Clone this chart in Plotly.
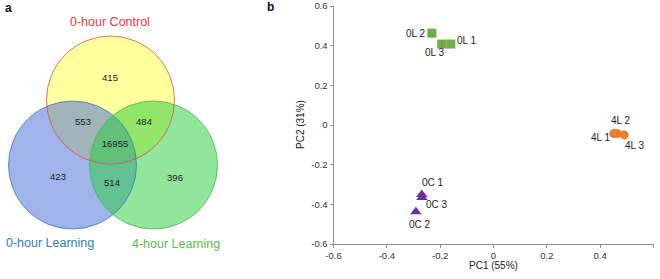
import plotly.graph_objects as go

# ---------------- Data ----------------
venn_sets = ["0-hour Control", "0-hour Learning", "4-hour Learning"]
venn_region_names = ["C only", "C&L0", "C&L4", "All", "L0 only", "L0&L4", "L4 only"]
venn_region_counts = [415, 553, 484, 16955, 423, 514, 396]

sample_labels = ["0L 1", "0L 2", "0L 3", "4L 1", "4L 2", "4L 3", "0C 1", "0C 2", "0C 3"]
sample_groups = ["0L", "0L", "0L", "4L", "4L", "4L", "0C", "0C", "0C"]
pc1_values = [-0.160, -0.231, -0.194, 0.451, 0.464, 0.490, -0.269, -0.291, -0.268]
pc2_values = [0.408, 0.463, 0.408, -0.043, -0.043, -0.050, -0.350, -0.438, -0.365]

axis_tick_values = [-0.6, -0.4, -0.2, 0, 0.2, 0.4, 0.6]
axis_tick_labels = ["-0.6", "-0.4", "-0.2", "0", "0.2", "0.4", "0.6"]
pc1_title = "PC1 (55%)"
pc2_title = "PC2 (31%)"

# ---------------- Styles ----------------
W, H = 660, 279
FONT = "Liberation Sans, Arial, sans-serif"
group_style = {
    "0L": dict(symbol="square", color="#70ad47", size=9),
    "4L": dict(symbol="circle", color="#ed7d31", size=9),
    "0C": dict(symbol="triangle-up", color="#7030a0", size=10),
}
# label placement relative to its marker: (xanchor, xshift px, yshift px; +y = down)
label_offset = {
    "0L 1": ("left", 4, -4), "0L 2": ("right", -4, 0), "0L 3": ("center", -7, 8.5),
    "4L 1": ("right", -1, 4), "4L 2": ("center", 4, -13.5), "4L 3": ("left", -1.5, 10.5),
    "0C 1": ("left", -2, -12), "0C 2": ("center", 4.5, 12.5), "0C 3": ("left", 2, 7),
}

fig = go.Figure()

# ---------------- PCA scatter ----------------
for g in ["0L", "4L", "0C"]:
    idx = [i for i, s in enumerate(sample_groups) if s == g]
    st = group_style[g]
    fig.add_trace(go.Scatter(
        x=[pc1_values[i] for i in idx],
        y=[pc2_values[i] for i in idx],
        text=[sample_labels[i] for i in idx],
        mode="markers",
        marker=dict(symbol=st["symbol"], color=st["color"], size=st["size"], line=dict(width=0)),
        xaxis="x", yaxis="y", showlegend=False, cliponaxis=False, hoverinfo="text",
    ))

annotations = []
for lab, xv, yv in zip(sample_labels, pc1_values, pc2_values):
    xa, dx, dy = label_offset[lab]
    annotations.append(dict(x=xv, y=yv, xref="x", yref="y", text=lab, showarrow=False,
                            xanchor=xa, yanchor="middle", xshift=dx, yshift=-dy,
                            font=dict(family=FONT, size=10, color="#222222")))

# ---------------- Venn (pixel-space hidden axes) ----------------
circ = {
    "0-hour Control": dict(cx=110.5, cy=100, r=64, fill="rgba(255,255,60,0.5)", line="#e84a4a"),
    "0-hour Learning": dict(cx=72.5, cy=165, r=64, fill="rgba(65,105,215,0.5)", line="#3a7ec4"),
    "4-hour Learning": dict(cx=153.5, cy=165, r=64, fill="rgba(35,205,55,0.5)", line="#4cb84c"),
}
draw_order = ["0-hour Control", "0-hour Learning", "4-hour Learning"]
shapes = []
for name in draw_order:
    c = circ[name]
    shapes.append(dict(type="circle", xref="x2", yref="y2",
                       x0=c["cx"] - c["r"], x1=c["cx"] + c["r"],
                       y0=c["cy"] - c["r"], y1=c["cy"] + c["r"],
                       fillcolor=c["fill"], line=dict(width=0), layer="below"))
for name in draw_order:
    c = circ[name]
    shapes.append(dict(type="circle", xref="x2", yref="y2",
                       x0=c["cx"] - c["r"], x1=c["cx"] + c["r"],
                       y0=c["cy"] - c["r"], y1=c["cy"] + c["r"],
                       fillcolor="rgba(0,0,0,0)", line=dict(width=1, color=c["line"]),
                       opacity=0.8, layer="below"))

region_xy = {
    "C only": (110, 79), "C&L0": (83, 123), "C&L4": (144, 123), "All": (115, 145),
    "L0 only": (58, 178), "L0&L4": (112, 184), "L4 only": (175, 179),
}
fig.add_trace(go.Scatter(
    x=[region_xy[n][0] for n in venn_region_names],
    y=[region_xy[n][1] for n in venn_region_names],
    text=[str(v) for v in venn_region_counts],
    mode="text", textfont=dict(family=FONT, size=9.5, color="#1a1a1a"),
    xaxis="x2", yaxis="y2", showlegend=False, hoverinfo="skip", cliponaxis=False,
))

set_label_style = {
    "0-hour Control": dict(x=110, y=22, color="#e83a3a"),
    "0-hour Learning": dict(x=50, y=243, color="#2f7bbf"),
    "4-hour Learning": dict(x=176, y=244, color="#5cbc4e"),
}
for name in venn_sets:
    s = set_label_style[name]
    annotations.append(dict(x=s["x"], y=s["y"], xref="x2", yref="y2", text=name,
                            xanchor="center", yanchor="middle",
                            showarrow=False, font=dict(family=FONT, size=12.5, color=s["color"])))

annotations += [
    dict(x=8 / W, y=1 - 8 / H, xref="paper", yref="paper", text="<b>a</b>", showarrow=False,
         xanchor="center", yanchor="middle", font=dict(family=FONT, size=12, color="#111")),
    dict(x=270 / W, y=1 - 7 / H, xref="paper", yref="paper", text="<b>b</b>", showarrow=False,
         xanchor="center", yanchor="middle", font=dict(family=FONT, size=12, color="#111")),
    dict(x=493 / W, y=1 - 265 / H, xref="paper", yref="paper", text=pc1_title, showarrow=False,
         xanchor="center", yanchor="middle", font=dict(family=FONT, size=10, color="#222")),
    dict(x=300 / W, y=1 - 125 / H, xref="paper", yref="paper", text=pc2_title, showarrow=False,
         xanchor="center", yanchor="middle", textangle=-90,
         font=dict(family=FONT, size=10, color="#222")),
]

axis_common = dict(
    range=[-0.6, 0.6], tickvals=axis_tick_values, ticktext=axis_tick_labels,
    showgrid=False, zeroline=False, showline=True, linecolor="#8c8c8c", linewidth=1,
    ticks="outside", ticklen=3, tickcolor="#8c8c8c", automargin=False,
    tickfont=dict(family=FONT, size=9.5, color="#333"), fixedrange=True,
)

fig.update_layout(
    width=W, height=H, margin=dict(l=0, r=0, t=0, b=0, pad=0, autoexpand=False),
    paper_bgcolor="white", plot_bgcolor="rgba(0,0,0,0)",
    xaxis=dict(domain=[333.5 / W, 653.5 / W], anchor="y", **axis_common),
    yaxis=dict(domain=[1 - 244 / H, 1 - 6 / H], anchor="x", **axis_common),
    xaxis2=dict(domain=[0, 330 / W], range=[0, 330], visible=False, anchor="y2", fixedrange=True),
    yaxis2=dict(domain=[0, 1], range=[H, 0], visible=False, anchor="x2", fixedrange=True),
    shapes=shapes, annotations=annotations, showlegend=False,
)

fig.write_html(
    "out.html",
    config={"displayModeBar": False},
    post_script="document.body.style.margin='0';document.body.style.padding='0';"
                "document.body.style.overflow='hidden';",
)
